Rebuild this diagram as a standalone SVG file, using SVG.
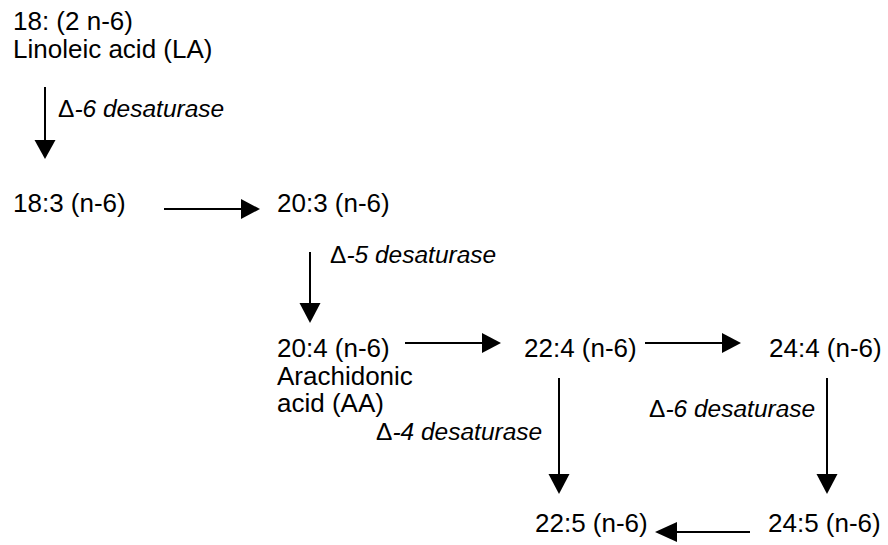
<svg xmlns="http://www.w3.org/2000/svg" width="888" height="545" viewBox="0 0 888 545">
<defs>
<style>
text{font-family:"Liberation Sans",Arial,sans-serif;font-size:26px;fill:#000}
.e{font-style:italic;font-size:24.5px}
.e tspan{font-style:normal}
.c line{stroke:#000;stroke-width:2}
.c polygon{fill:#000}
</style>
</defs>
<rect width="888" height="545" fill="#fff"/>
<g id="n-la"><text x="13" y="30">18: (2 n-6)</text><text x="13" y="58">Linoleic acid (LA)</text></g>
<g id="n-183"><text x="13" y="212">18:3 (n-6)</text></g>
<g id="n-203"><text x="277" y="212">20:3 (n-6)</text></g>
<g id="n-204"><text x="277" y="357">20:4 (n-6)</text><text x="277" y="385">Arachidonic</text><text x="277" y="412">acid (AA)</text></g>
<g id="n-224"><text x="524" y="357">22:4 (n-6)</text></g>
<g id="n-244"><text x="769" y="357">24:4 (n-6)</text></g>
<g id="n-225"><text x="535" y="532">22:5 (n-6)</text></g>
<g id="n-245"><text x="768" y="532">24:5 (n-6)</text></g>
<g id="labels">
<text class="e" x="58" y="117"><tspan>Δ</tspan>-6 desaturase</text>
<text class="e" x="330" y="263"><tspan>Δ</tspan>-5 desaturase</text>
<text class="e" x="376" y="440"><tspan>Δ</tspan>-4 desaturase</text>
<text class="e" x="649" y="417"><tspan>Δ</tspan>-6 desaturase</text>
</g>
<g id="connectors" class="c">
<line x1="45" y1="87" x2="45" y2="142"/><polygon points="34.5,140 55.5,140 45,159"/>
<line x1="164" y1="209" x2="243" y2="209"/><polygon points="241,199 241,219 260,209"/>
<line x1="310" y1="252" x2="310" y2="305"/><polygon points="299.5,303 320.5,303 310,323"/>
<line x1="405" y1="343" x2="484" y2="343"/><polygon points="482,333 482,353 501,343"/>
<line x1="645" y1="343" x2="724" y2="343"/><polygon points="722,333 722,353 741,343"/>
<line x1="559" y1="378" x2="559" y2="476"/><polygon points="548.5,474 569.5,474 559,494"/>
<line x1="827" y1="378" x2="827" y2="476"/><polygon points="816.5,474 837.5,474 827,494"/>
<line x1="750" y1="532" x2="675" y2="532"/><polygon points="677,522 677,542 655,532"/>
</g>
</svg>
